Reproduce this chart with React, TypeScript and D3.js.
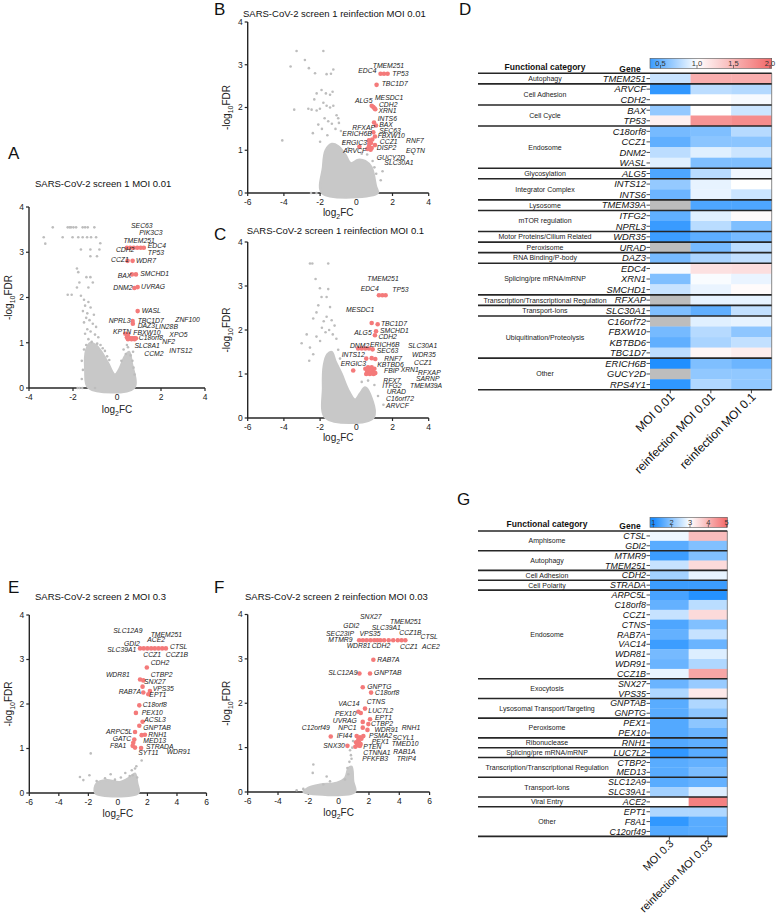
import React from 'react';
import * as d3 from 'd3';

const FONT = '"Liberation Sans", Arial, Helvetica, sans-serif';
type P = [number, number];
type H = [string, number, number];

// ---------------- Panel A: screen 1 MOI 0.01 ----------------
const aGrey: P[] = [
  [-2.92,3.55],[-2.24,3.55],[-2.15,3.55],[-2.09,3.55],[-1.98,3.55],[-1.86,3.55],[-1.56,3.55],[-1.45,3.55],[-1.33,3.55],[-1.03,3.55],
  [-3.33,3.33],[-2.47,3.33],[-2.02,3.33],[-1.76,3.33],[-1.56,3.33],[-1.36,3.33],[-1.18,3.33],[-0.95,3.33],
  [-3.26,3.19],[-0.76,3.2],[-1.64,3.06],[-1.21,3.06],[-0.8,3.06],[-1.21,2.91],[-0.91,2.91],
  [-1.82,2.64],[-1.76,2.56],[-1.39,2.45],[-1.21,2.45],[-1.71,2.33],[-1.1,2.33],[-1.82,2.22],[-1.3,2.22],[-2.24,2.06],[-2.06,2.06],[-1.64,2.04],
  [-1.5,1.95],[-1.3,1.9],[-1.45,1.82],[-1.2,1.78],[-1.55,1.7],[-1.35,1.65],[-1.05,1.62],[-1.4,1.55],[-1.25,1.5],[-1.5,1.45],
  [-1.1,1.42],[-0.95,1.35],[-1.35,1.3],[-1.2,1.25],[-1.45,1.2],[-1.0,1.18],[-0.85,1.12],[-1.3,1.08],[-1.15,1.02],[-0.9,0.98],
  [-0.75,0.95],[-1.4,0.95],[-0.65,0.88],[-1.5,0.85],[-1.6,0.6],[-1.55,0.4],[-1.6,0.2],[-0.55,0.82],[-0.45,0.7],[-0.35,0.62],
  [0.3,0.85],[0.5,0.9],[0.45,0.95],[0.62,0.72],[0.7,0.6],[0.75,0.45],[0.8,0.3],[0.4,0.75],[0.73,0.8],[0.2,0.6],
  [-1.79,0.0],[-1.7,0.0],[-1.58,0.0],[-1.0,0.0]
];
const aCloud: P[] = [[-1.3,0.0],[-1.45,0.4],[-1.4,0.85],[-1.2,1.0],[-0.95,0.95],[-0.7,0.8],[-0.4,0.55],[-0.1,0.3],[0.1,0.42],[0.35,0.7],[0.55,0.8],[0.68,0.55],[0.78,0.0]];
const aHits: H[] = [
  ['SEC63',0.45,3.1],['PIK3C3',0.6,3.1],['TMEM251',0.76,3.1],['EDC4',0.92,3.1],['TP53',1.08,3.1],['CDH2',1.22,3.1],
  ['CCZ1',0.48,2.81],['WDR7',0.71,2.81],['BAX',0.68,2.51],['SMCHD1',0.86,2.51],['DNM2',0.79,2.21],['UVRAG',0.94,2.23],
  ['WASL',0.94,1.7],['NPRL3',0.71,1.48],['TBC1D7',0.72,1.42],
  ['KPTN',0.38,1.2],['FBXW10',0.5,1.18],['DAZ3',0.45,1.12],['C18orf8',0.55,1.1],['LIN28B',0.62,1.1],['ZNF100',0.7,1.1],
  ['XPO5',0.78,1.1],['NF2',0.86,1.1],['SLC8A1',0.5,1.08],['CCM2',0.66,1.08],['INTS12',0.8,1.08]
];
const aLabels: H[] = [
  ['SEC63',0.64,3.58],['PIK3C3',1.01,3.44],['TMEM251',0.29,3.26],['EDC4',1.40,3.14],['CDH2',-0.05,3.06],['TP53',1.40,3.0],
  ['CCZ1',-0.27,2.83],['WDR7',0.86,2.82],['BAX',0.03,2.48],['SMCHD1',1.06,2.53],['DNM2',-0.17,2.21],['UVRAG',1.09,2.23],
  ['WASL',1.12,1.7],['NPRL3',-0.38,1.49],['TBC1D7',0.94,1.49],['ZNF100',2.65,1.52],['DAZ3',0.94,1.37],['LIN28B',1.74,1.35],
  ['KPTN',-0.18,1.24],['FBXW10',0.74,1.23],['XPO5',2.38,1.18],['C18orf8',0.99,1.11],['NF2',2.06,1.02],['SLC8A1',0.79,0.94],
  ['INTS12',2.38,0.82],['CCM2',1.24,0.77]
];

// ---------------- Panel B: screen 1 reinfection MOI 0.01 ----------------
const bGrey: P[] = [
  [-3.3,3.32],[-1.82,3.32],[-3.63,2.96],[-2.84,3.11],[-2.62,2.92],[-2.28,2.8],[-1.64,2.78],[-1.4,2.79],[-1.27,2.89],[-3.43,1.95],
  [-4.09,1.23],[-2.32,2.19],[-2.19,2.33],[-1.92,2.41],[-1.68,2.33],[-1.45,2.3],[-1.31,2.37],[-2.65,1.97],[-2.47,1.95],[-2.19,1.93],
  [-2.01,1.97],[-1.82,2.11],[-1.64,2.04],[-1.45,2.0],[-1.27,2.04],[-1.09,1.82],[-1.0,1.75],[-0.96,1.64],[-2.1,1.6],[-1.9,1.5],
  [-2.4,1.4],[-1.75,1.75],[-1.55,1.68],[-1.35,1.62],[-1.15,1.5],[-0.85,1.45],[-1.6,1.35],[-2.0,1.2],[-0.7,1.2],[-0.45,1.05],
  [0.9,0.75],[1.0,0.6],[1.1,0.45],[1.35,0.3],[1.45,0.51],[0.6,0.9],[0.3,0.92],[-2.5,0.0],[-2.2,0.0]
];
const bCloud: P[] = [[-1.9,0.0],[-1.85,0.6],[-1.7,1.0],[-1.35,1.15],[-1.0,1.1],[-0.6,0.9],[-0.3,0.7],[0.1,0.78],[0.5,0.75],[0.85,0.6],[1.1,0.15],[1.2,0.0]];
const bHits: H[] = [
  ['TMEM251',1.34,2.79],['EDC4',1.53,2.79],['TP53',1.73,2.79],['TBC1D7',1.12,2.53],['ALG5',0.85,2.04],['MESDC1',0.94,2.01],
  ['CDH2',1.0,1.98],['XRN1',1.05,1.96],['INTS6',0.98,1.65],['BAX',1.09,1.58],['RFXAP',0.94,1.42],['SEC63',1.03,1.32],
  ['ERICH6B',0.7,1.23],['FBXW10',0.81,1.17],['CCZ1',1.03,1.12],['ERGIC3',0.7,1.09],['RNF7',0.61,1.03],['ARVCF',0.17,1.08],
  ['DISP2',0.79,1.01],['EQTN',0.85,1.05],['GUCY2D',0.72,1.15],['SLC30A1',0.88,1.25]
];
const bLabels: H[] = [
  ['TMEM251',0.91,2.98],['EDC4',0.11,2.86],['TP53',1.99,2.79],['TBC1D7',1.4,2.55],['ALG5',-0.07,2.17],['MESDC1',1.03,2.22],
  ['CDH2',1.25,2.07],['XRN1',1.22,1.93],['INTS6',1.18,1.75],['BAX',1.27,1.6],['RFXAP',-0.22,1.53],['SEC63',1.27,1.47],
  ['ERICH6B',-0.77,1.38],['FBXW10',1.18,1.34],['ERGIC3',-0.81,1.19],['CCZ1',1.3,1.21],['RNF7',2.75,1.22],['DISP2',1.13,1.07],
  ['ARVCF',-0.72,1.0],['EQTN',2.75,0.98],['GUCY2D',1.13,0.83],['SLC30A1',1.55,0.7]
];

// ---------------- Panel C: screen 1 reinfection MOI 0.1 ----------------
const cGrey: P[] = [
  [-2.56,3.51],[-2.43,3.51],[-1.55,3.51],[-2.25,3.16],[-2.01,2.95],[-1.55,2.93],[-1.92,2.75],[-1.64,2.75],[-2.1,2.56],[-1.45,2.52],
  [-2.38,2.26],[-1.64,2.3],[-1.36,2.22],[-3.02,1.7],[-2.74,1.9],[-2.56,1.6],[-2.38,1.45],[-2.2,1.85],[-1.9,2.05],[-1.7,1.95],
  [-2.0,1.75],[-1.5,2.0],[-1.3,1.9],[-1.1,1.8],[-1.0,1.55],[-0.9,1.35],[-2.2,2.4],[-1.8,2.2],[-1.2,2.1],[-2.6,1.3],
  [1.0,0.75],[1.2,0.5],[1.5,0.3],[0.3,0.82],[0.65,0.85]
];
const cCloud: P[] = [[-1.7,0.0],[-1.85,0.7],[-1.8,1.2],[-1.6,1.45],[-1.35,1.5],[-1.15,1.3],[-0.8,1.0],[-0.45,0.65],[-0.07,0.42],[0.2,0.56],[0.48,0.7],[0.76,0.55],[0.94,0.0]];
const cHits: H[] = [
  ['TMEM251',1.25,2.79],['EDC4',1.44,2.79],['TP53',1.62,2.79],['MESDC1',0.85,2.16],['TBC1D7',1.18,2.13],['SMCHD1',1.09,1.97],
  ['ALG5',1.03,1.88],['INTS12',0.1,1.58],['DNM2',0.3,1.58],['ERICH6B',0.5,1.58],['SEC63',0.7,1.58],['RNF7',0.9,1.56],
  ['KBTBD6',0.55,1.35],['XRN1',0.85,1.36],['FBIP',1.05,1.34],['ERGIC3',-0.17,1.08],['RFX7',0.5,1.12],['ITFG2',0.6,1.05],
  ['URAD',0.7,1.1],['C16orf72',0.8,1.02],['ARVCF',0.9,1.08],['SLC30A1',1.0,1.12],['WDR35',0.55,1.0],['CCZ1',0.65,1.15],
  ['RFXAP',0.75,1.0],['SARNP',0.85,1.15],['TMEM39A',1.05,1.02],['CDH2',0.95,1.0]
];
const cLabels: H[] = [
  ['TMEM251',0.61,3.17],['EDC4',0.24,2.93],['TP53',1.99,2.91],['MESDC1',-0.57,2.47],['TBC1D7',1.36,2.14],['SMCHD1',1.31,1.99],
  ['ALG5',-0.11,1.93],['CDH2',1.22,1.84],['DNM2',-0.35,1.65],['ERICH6B',0.76,1.67],['SEC63',1.13,1.53],['INTS12',-0.81,1.45],
  ['RNF7',1.55,1.36],['KBTBD6',1.16,1.22],['ERGIC3',-0.86,1.23],['FBIP',1.53,1.07],['XRN1',2.45,1.1],['RFX7',1.49,0.86],
  ['ITFG2',1.44,0.73],['URAD',1.68,0.59],['C16orf72',1.64,0.45],['ARVCF',1.64,0.29],['SLC30A1',2.86,1.64],['WDR35',3.08,1.44],
  ['CCZ1',3.19,1.27],['RFXAP',3.41,1.04],['SARNP',3.3,0.9],['TMEM39A',2.97,0.73]
];

// ---------------- Panel E: screen 2 MOI 0.3 ----------------
const eGrey: P[] = [
  [-1.84,0.89],[1.61,0.73],[0.94,0.51],[1.16,0.55],[-0.49,0.42],[-2.57,0.36],[-1.93,0.4],[-2.34,0.29],[-1.44,0.27],[-0.87,0.33],
  [0.5,0.45],[1.0,0.4],[1.3,0.35],[0.2,0.35],[-0.2,0.3],[1.25,0.6],[0.8,0.38]
];
const eCloud: P[] = [[-1.54,0.0],[-1.44,0.22],[-0.76,0.29],[0.14,0.25],[0.82,0.36],[1.16,0.44],[1.32,0.22],[1.39,0.0]];
const eHits: H[] = [
  ['SLC39A1',1.5,3.25],['GDI2',1.75,3.25],['SLC12A9',2.0,3.25],['ACE2',2.25,3.25],['TMEM251',2.5,3.25],['CCZ1',2.75,3.25],
  ['CTSL',3.0,3.25],['CCZ1B',3.25,3.25],['CDH2',1.96,2.82],['WDR81',1.5,2.55],['CTBP2',1.72,2.53],['SNX27',1.67,2.39],
  ['RAB7A',1.72,2.26],['VPS35',2.17,2.29],['EPT1',2.06,2.22],['C18orf8',1.45,1.97],['PEX10',1.22,1.8],['ACSL3',1.67,1.6],
  ['GNPTAB',1.45,1.51],['ARPC5L',1.16,1.37],['RNH1',1.83,1.31],['MED13',1.61,1.3],['GATC',1.11,1.2],['ATG',1.04,1.13],
  ['F8A1',1.0,1.06],['SYT11',1.16,1.02],['STRADA',1.57,1.01]
];
const eLabels: H[] = [
  ['SLC12A9',-0.31,3.65],['TMEM251',2.22,3.57],['ACE2',1.99,3.44],['GDI2',0.41,3.36],['CTSL',3.53,3.3],['SLC39A1',-0.72,3.22],
  ['CCZ1',1.72,3.12],['CCZ1B',3.24,3.1],['CDH2',2.22,2.93],['WDR81',-0.81,2.66],['CTBP2',2.22,2.67],['SNX27',1.77,2.5],
  ['VPS35',2.36,2.34],['RAB7A',0.05,2.27],['EPT1',2.13,2.2],['C18orf8',1.68,1.98],['PEX10',1.61,1.81],['ACSL3',1.79,1.64],
  ['GNPTAB',1.72,1.48],['ARPC5L',-0.81,1.38],['RNH1',2.06,1.31],['GATC',-0.35,1.22],['MED13',1.72,1.17],['F8A1',-0.53,1.06],
  ['STRADA',1.9,1.04],['WDR91',3.3,0.93],['SYT11',1.38,0.91]
];

// ---------------- Panel F: screen 2 reinfection MOI 0.03 ----------------
const fGrey: P[] = [
  [-1.71,0.43],[0.75,0.94],[0.81,0.83],[0.71,0.68],[0.58,0.54],[0.64,0.4],[0.42,0.28],[-0.57,0.24],[-1.01,0.17],[-1.67,0.62],
  [-0.79,0.35],[-2.33,0.07],[-2.77,0.04],[0.95,1.15],[0.9,1.0],[0.85,0.75]
];
const fCloud: P[] = [[-2.33,0.0],[-2.0,0.1],[-1.23,0.17],[-0.13,0.21],[0.42,0.32],[0.64,0.54],[0.86,0.57],[0.97,0.24],[1.08,0.0]];
const fHits: H[] = [
  ['SNX27',1.35,3.42],['GDI2',1.6,3.42],['SEC23IP',1.85,3.42],['MTMR9',2.1,3.42],['VPS35',2.35,3.42],['WDR81',2.55,3.42],
  ['SLC39A1',2.75,3.42],['CDH2',3.0,3.42],['TMEM251',3.3,3.42],['CCZ1B',3.6,3.42],['CCZ1',3.9,3.42],['ACE2',4.15,3.42],
  ['CTSL',4.4,3.42],['RAB7A',2.29,2.98],['SLC12A9',1.37,2.67],['GNPTAB',2.07,2.67],['GNPTG',1.59,2.36],['C18orf8',2.14,2.24],
  ['CTNS',1.74,1.88],['VAC14',1.3,1.81],['PEX10',1.46,1.78],['LUC7L2',2.07,1.64],['UVRAG',1.59,1.58],['CTBP2',1.96,1.53],
  ['NPC1',1.59,1.45],['WDR91',1.9,1.4],['IFI44',-0.52,1.25],['PSMA2',1.19,1.26],['SCYL1',1.41,1.23],['PEX1',1.63,1.26],
  ['RNH1',1.5,1.2],['C12orf49',1.3,1.18],['SNX30',0.58,1.04],['PTEN',1.15,1.12],['TMED10',1.3,1.05],['RAB1A',1.41,1.04],
  ['CTNNA1',1.22,1.08],['TRIP4',1.35,1.12],['PFKFB3',1.1,1.02],['EPT1',1.45,1.08]
];
const fLabels: H[] = [
  ['SNX27',1.41,3.95],['GDI2',0.31,3.74],['TMEM251',3.39,3.84],['SLC39A1',2.18,3.71],['SEC23IP',-0.83,3.57],['VPS35',1.37,3.57],
  ['CCZ1B',4.0,3.6],['MTMR9',-0.68,3.44],['WDR81',0.53,3.3],['CDH2',2.18,3.3],['CCZ1',4.05,3.28],['CTSL',5.4,3.5],
  ['ACE2',5.5,3.28],['RAB7A',2.55,2.98],['SLC12A9',-0.68,2.68],['GNPTAB',2.34,2.68],['GNPTG',1.89,2.37],['C18orf8',2.4,2.24],
  ['VAC14',-0.02,1.99],['CTNS',1.85,2.03],['PEX10',-0.24,1.76],['LUC7L2',1.96,1.83],['EPT1',2.4,1.67],['UVRAG',-0.39,1.6],
  ['CTBP2',2.14,1.54],['NPC1',-0.02,1.45],['WDR91',2.36,1.41],['RNH1',4.16,1.45],['C12orf49',-2.43,1.45],['IFI44',-0.13,1.26],
  ['PSMA2',2.0,1.28],['SCYL1',3.55,1.23],['PEX1',2.18,1.14],['SNX30',-1.01,1.05],['TMED10',3.5,1.09],['PTEN',1.63,1.02],
  ['RAB1A',3.61,0.92],['CTNNA1',1.63,0.89],['TRIP4',3.83,0.76],['PFKFB3',1.56,0.75]
];

// ---------------- Panel D heatmap ----------------
const dGenes = ['TMEM251','ARVCF','CDH2','BAX','TP53','C18orf8','CCZ1','DNM2','WASL','ALG5','INTS12','INTS6','TMEM39A','ITFG2','NPRL3','WDR35','URAD','DAZ3','EDC4','XRN1','SMCHD1','RFXAP','SLC30A1','C16orf72','FBXW10','KBTBD6','TBC1D7','ERICH6B','GUCY2D','RPS4Y1'];
const dCategories: [string, number][] = [['Autophagy',1],['Cell Adhesion',2],['Cell Cycle',2],['Endosome',4],['Glycosylation',1],['Integrator Complex',2],['Lysosome',1],['mTOR regulation',2],['Motor Proteins/Cilium Related',1],['Peroxisome',1],['RNA Binding/P-body',1],['Splicing/pre mRNA/mRNP',3],['Transcription/Transcriptional Regulation',1],['Transport-Ions',1],['Ubiquitination/Proteolysis',4],['Other',3]];
const dColumns = ['MOI 0.01','reinfection MOI 0.01','reinfection MOI 0.1'];
const dMoi001 = [0.82,0.33,1.0,0.65,1.1,0.55,0.48,0.78,0.9,0.42,0.65,0.52,null,0.48,0.35,0.36,null,0.55,0.97,0.58,0.82,null,0.58,null,0.55,0.48,0.78,0.27,null,0.32];
const dRe001 = [1.55,0.78,1.0,1.0,1.72,0.58,0.62,0.9,0.58,0.77,0.92,0.92,0.42,0.9,0.77,0.47,0.55,0.72,1.2,0.98,0.93,0.92,0.48,0.9,0.76,0.72,1.06,0.58,0.64,0.74];
const dRe01 = [1.55,0.75,0.97,0.83,1.78,0.76,0.62,0.83,0.58,0.95,1.0,0.83,0.42,1.04,0.58,0.55,0.78,0.8,1.22,0.93,1.03,0.92,0.8,0.92,0.63,0.8,1.12,0.52,0.64,0.64];
const dTicks = [0.5, 1.0, 1.5, 2.0];

// ---------------- Panel G heatmap ----------------
const gGenes = ['CTSL','GDI2','MTMR9','TMEM251','CDH2','STRADA','ARPC5L','C18orf8','CCZ1','CTNS','RAB7A','VAC14','WDR81','WDR91','CCZ1B','SNX27','VPS35','GNPTAB','GNPTG','PEX1','PEX10','RNH1','LUC7L2','CTBP2','MED13','SLC12A9','SLC39A1','ACE2','EPT1','F8A1','C12orf49'];
const gCategories: [string, number][] = [['Amphisome',2],['Autophagy',2],['Cell Adhesion',1],['Cell Polarity',1],['Endosome',9],['Exocytosis',2],['Lysosomal Transport/Targeting',2],['Peroxisome',2],['Ribonuclease',1],['Splicing/pre mRNA/mRNP',1],['Transcription/Transcriptional Regulation',2],['Transport-Ions',2],['Viral Entry',1],['Other',3]];
const gColumns = ['MOI 0.3','reinfection MOI 0.03'];
const gMoi03 = [2.85,1.55,1.3,2.5,2.2,1.3,1.4,1.65,2.5,1.45,1.65,1.3,1.8,1.7,2.8,1.7,2.3,1.55,1.55,1.5,1.5,1.5,1.2,1.55,1.55,1.55,2.2,3.0,2.3,1.2,1.5];
const gRe003 = [3.9,1.9,1.9,3.5,2.8,1.3,1.1,2.4,3.5,1.9,2.5,1.7,2.7,2.3,4.2,2.1,3.3,2.3,2.0,2.0,1.7,1.6,1.55,1.65,1.85,1.65,2.7,4.7,2.3,1.55,1.55];
const gTicks = [1, 2, 3, 4, 5];

// ---------------- components ----------------
function Log2FC({ x, y }: { x: number; y: number }) {
  return (
    <text x={x} y={y} fontSize={10} textAnchor="middle" fill="#222">
      log<tspan fontSize={7} dy={2.5}>2</tspan><tspan dy={-2.5}>FC</tspan>
    </text>
  );
}
function Log10FDR({ x, y }: { x: number; y: number }) {
  return (
    <text transform={`translate(${x},${y}) rotate(-90)`} fontSize={10} textAnchor="middle" fill="#222">
      -log<tspan fontSize={7} dy={2.5}>10</tspan><tspan dy={-2.5}>FDR</tspan>
    </text>
  );
}

function Volcano(props: any) {
  const { xr, yr, xDomain, xTicks, grey, cloud, hits, labels, title, tx, ty, letter, lx, ly, ylx, xly } = props;
  const x = d3.scaleLinear().domain(xDomain).range(xr);
  const y = d3.scaleLinear().domain([0, 4]).range(yr);
  const cloudPath = d3.line<P>().x(d => x(d[0])).y(d => y(d[1])).curve(d3.curveCatmullRomClosed.alpha(0.5))(cloud) || '';
  const ax = '#262626';
  return (
    <g fontFamily={FONT}>
      <text x={lx} y={ly} fontSize={17} fill="#111">{letter}</text>
      <text x={tx} y={ty} fontSize={9.5} fill="#111">{title}</text>
      <line x1={xr[0]} x2={xr[0]} y1={yr[0]} y2={yr[1]} stroke={ax} strokeWidth={1.4} />
      <line x1={xr[0]} x2={xr[1]} y1={yr[0]} y2={yr[0]} stroke={ax} strokeWidth={1.4} />
      {[0, 1, 2, 3, 4].map(t => (
        <g key={'y' + t}>
          <line x1={xr[0] - 3} x2={xr[0]} y1={y(t)} y2={y(t)} stroke={ax} strokeWidth={1.2} />
          <text x={xr[0] - 5} y={y(t)} dy="0.33em" fontSize={8.5} textAnchor="end" fill="#222">{t}</text>
        </g>
      ))}
      {xTicks.map((t: number) => (
        <g key={'x' + t}>
          <line x1={x(t)} x2={x(t)} y1={yr[0]} y2={yr[0] + 3} stroke={ax} strokeWidth={1.2} />
          <text x={x(t)} y={yr[0] + 12} fontSize={8.5} textAnchor="middle" fill="#222">{t < 0 ? '-' + Math.abs(t) : t}</text>
        </g>
      ))}
      <Log2FC x={(xr[0] + xr[1]) / 2} y={xly} />
      <Log10FDR x={ylx} y={(yr[0] + yr[1]) / 2} />
      <path d={cloudPath} fill="#c8c8c8" stroke="#c8c8c8" strokeWidth={2} />
      {grey.map((d: P, i: number) => <circle key={'g' + i} cx={x(d[0])} cy={y(d[1])} r={1.3} fill="#bdbdbd" />)}
      {hits.map((d: H, i: number) => <circle key={'h' + i} cx={x(d[1])} cy={y(d[2])} r={2.3} fill="#f47a7a" />)}
      {labels.map((d: H, i: number) => (
        <text key={'l' + i} x={x(d[1])} y={y(d[2])} dy="0.35em" fontSize={6.8} fontStyle="italic" fill="#1a1a1a">{d[0]}</text>
      ))}
    </g>
  );
}

function Heatmap(props: any) {
  const { genes, cats, columns, values, color, x0, x1, top, rowH, geneFont, catX, letter, lx, ly,
    headerY, geneHeaderY, cbY, cbX1, tickScale, ticks, tickFmt, colLabelFont } = props;
  const nCol = columns.length;
  const cw = (x1 - x0) / nCol;
  const yRow = d3.scaleLinear().domain([0, genes.length]).range([top, top + rowH * genes.length]);
  const bottom = yRow(genes.length);
  const boundaries: number[] = [0];
  const catCenters: [string, number][] = [];
  let acc = 0;
  cats.forEach(([name, n]: [string, number]) => {
    catCenters.push([name, (yRow(acc) + yRow(acc + n)) / 2]);
    acc += n;
    boundaries.push(acc);
  });
  const gid = 'grad' + letter;
  const v0 = tickScale.invert(x0);
  const v1 = tickScale.invert(cbX1);
  const stops = d3.range(0, 1.0001, 0.05).map(f => ({ off: f, c: color(v0 + (v1 - v0) * f) }));
  return (
    <g fontFamily={FONT}>
      <defs>
        <linearGradient id={gid} x1="0" x2="1" y1="0" y2="0">
          {stops.map((s, i) => <stop key={i} offset={s.off} stopColor={s.c} />)}
        </linearGradient>
      </defs>
      <text x={lx} y={ly} fontSize={17} fill="#111">{letter}</text>
      <rect x={x0} y={cbY} width={cbX1 - x0} height={10} fill={`url(#${gid})`} stroke="#555" strokeWidth={0.6} />
      {ticks.map((t: number) => (
        <g key={t}>
          <line x1={tickScale(t)} x2={tickScale(t)} y1={cbY + 7} y2={cbY + 10} stroke="#333" strokeWidth={0.6} />
          <text x={tickScale(t)} y={cbY + 7.5} fontSize={7.5} textAnchor="middle" fill="#333">{tickFmt(t)}</text>
        </g>
      ))}
      <text x={catX} y={headerY} fontSize={8.5} fontWeight="bold" textAnchor="middle" fill="#111">Functional category</text>
      <text x={x0 - 20} y={geneHeaderY} fontSize={8.5} fontWeight="bold" textAnchor="middle" fill="#111">Gene</text>
      {genes.map((g: string, r: number) => (
        <g key={g + r}>
          {values.map((col: (number | null)[], c: number) => (
            <rect key={c} x={x0 + c * cw} y={yRow(r)} width={cw + 0.3} height={rowH + 0.3}
              fill={col[r] == null ? '#bdbdbd' : color(col[r] as number)} />
          ))}
          <text x={x0 - 4} y={yRow(r) + rowH / 2} dy="0.35em" fontSize={geneFont} fontStyle="italic" textAnchor="end" fill="#111">{g}</text>
          <line x1={x0 - 3.5} x2={x0} y1={yRow(r) + rowH / 2} y2={yRow(r) + rowH / 2} stroke="#222" strokeWidth={0.8} />
        </g>
      ))}
      <line x1={x1} x2={x1} y1={top} y2={bottom} stroke="#888" strokeWidth={1} />
      {boundaries.map((b, i) => (
        <line key={'b' + i} x1={478} x2={x1} y1={yRow(b)} y2={yRow(b)} stroke="#262626" strokeWidth={1.6} />
      ))}
      {catCenters.map(([name, cy]) => (
        <text key={name} x={catX} y={cy} dy="0.35em" fontSize={7} textAnchor="middle" fill="#222">{name}</text>
      ))}
      {columns.map((c: string, i: number) => {
        const cx = x0 + (i + 0.5) * cw;
        return (
          <g key={c}>
            <line x1={cx} x2={cx} y1={bottom} y2={bottom + 3.5} stroke="#222" strokeWidth={0.9} />
            <text transform={`translate(${cx + 5},${bottom + 8}) rotate(-45)`} fontSize={colLabelFont} textAnchor="end" fill="#111">{c}</text>
          </g>
        );
      })}
    </g>
  );
}

export default function App() {
  const dColor = d3.scaleLinear<string>().domain([0.25, 1, 2]).range(['#1a8cff', '#ffffff', '#f26b6b']).clamp(true);
  const gColor = d3.scaleLinear<string>().domain([1, 3, 5]).range(['#1a8cff', '#ffffff', '#f26b6b']).clamp(true);
  const dTickScale = d3.scaleLinear().domain([0.5, 2.0]).range([660.5, 770]);
  const gTickScale = d3.scaleLinear().domain([1, 5]).range([653.3, 726.7]);
  return (
    <svg width={776} height={916} style={{ position: 'absolute', left: 0, top: 0, background: '#fff' }}>
      <rect width={776} height={916} fill="#fff" />
      <Volcano xr={[29, 205]} yr={[388, 207]} xDomain={[-4, 4]} xTicks={[-4, -2, 0, 2, 4]}
        grey={aGrey} cloud={aCloud} hits={aHits} labels={aLabels}
        title="SARS-CoV-2 screen 1 MOI 0.01" tx={35} ty={187} letter="A" lx={8} ly={159} ylx={12} xly={413} />
      <Volcano xr={[247.7, 428.7]} yr={[193, 22]} xDomain={[-6, 4]} xTicks={[-6, -4, -2, 0, 2, 4]}
        grey={bGrey} cloud={bCloud} hits={bHits} labels={bLabels}
        title="SARS-CoV-2 screen 1 reinfection MOI 0.01" tx={243} ty={17} letter="B" lx={214} ly={15} ylx={230} xly={216} />
      <Volcano xr={[247.7, 428.7]} yr={[418, 242]} xDomain={[-6, 4]} xTicks={[-6, -4, -2, 0, 2, 4]}
        grey={cGrey} cloud={cCloud} hits={cHits} labels={cLabels}
        title="SARS-CoV-2 screen 1 reinfection MOI 0.1" tx={246.7} ty={234} letter="C" lx={214} ly={240} ylx={230} xly={441} />
      <Volcano xr={[29.3, 206.5]} yr={[793, 615]} xDomain={[-6, 6]} xTicks={[-6, -4, -2, 0, 2, 4, 6]}
        grey={eGrey} cloud={eCloud} hits={eHits} labels={eLabels}
        title="SARS-CoV-2 screen 2 MOI 0.3" tx={35} ty={600} letter="E" lx={8} ly={593} ylx={12} xly={817} />
      <Volcano xr={[247.7, 429.6]} yr={[792, 614.5]} xDomain={[-6, 6]} xTicks={[-6, -4, -2, 0, 2, 4, 6]}
        grey={fGrey} cloud={fCloud} hits={fHits} labels={fLabels}
        title="SARS-CoV-2 screen 2 reinfection MOI 0.03" tx={245} ty={600} letter="F" lx={214} ly={593} ylx={230} xly={816} />
      <Heatmap genes={dGenes} cats={dCategories} columns={dColumns} values={[dMoi001, dRe001, dRe01]} color={dColor}
        x0={650} x1={771.7} top={73.3} rowH={10.55} geneFont={9.4} catX={545} letter="D" lx={459} ly={15}
        headerY={70} geneHeaderY={72} cbY={58.3} cbX1={771.7} tickScale={dTickScale} ticks={dTicks} tickFmt={(t: number) => t.toFixed(1)} colLabelFont={12} />
      <Heatmap genes={gGenes} cats={gCategories} columns={gColumns} values={[gMoi03, gRe003]} color={gColor}
        x0={650} x1={727.3} top={531} rowH={9.85} geneFont={8.9} catX={547} letter="G" lx={457} ly={505}
        headerY={526.5} geneHeaderY={528.5} cbY={517.3} cbX1={727.3} tickScale={gTickScale} ticks={gTicks} tickFmt={(t: number) => String(t)} colLabelFont={10.8} />
    </svg>
  );
}
